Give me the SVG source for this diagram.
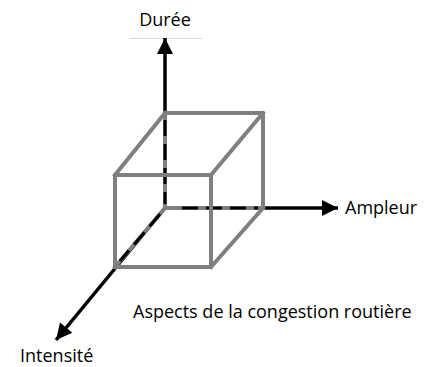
<svg xmlns="http://www.w3.org/2000/svg" width="437" height="367" viewBox="0 0 437 367">
  <style>
    .axis { stroke: #000; stroke-width: 3.5; fill: none; }
    .edge { stroke: #7f7f7f; stroke-width: 4; fill: none; stroke-linejoin: round; stroke-linecap: square; }
    .hidden { stroke: #000; stroke-width: 3; fill: none; stroke-dasharray: 16 8; }
    .label { font-family: "Open Sans", "Noto Sans", sans-serif; font-size: 18px; fill: #000; }
  </style>
  <defs>
    <marker id="arrow" viewBox="0 0 10 10" refX="10" refY="5" markerUnits="userSpaceOnUse" markerWidth="17" markerHeight="16" orient="auto">
      <path d="M0,0 L10,5 L0,10 z" fill="#000"/>
    </marker>
  </defs>
  <rect width="437" height="367" fill="#fff"/>

  <!-- thin rule under the vertical axis label -->
  <line x1="130" y1="38.5" x2="202" y2="38.5" stroke="#d9d9d9" stroke-width="1"/>

  <g id="connectors">
    <line class="axis" x1="165" y1="208" x2="165" y2="38" marker-end="url(#arrow)"/>
    <line class="axis" x1="165" y1="208" x2="338" y2="208" marker-end="url(#arrow)"/>
    <line class="axis" x1="165" y1="208" x2="56" y2="340" marker-end="url(#arrow)"/>
  </g>

  <g id="cube">
    <!-- back face and receding edges -->
    <polyline class="edge" points="165,208 165,113 263,113 263,208 165,208"/>
    <line class="edge" x1="165" y1="208" x2="115" y2="267"/>
    <!-- hidden edges along the axes -->
    <line class="hidden" x1="165" y1="120" x2="165" y2="204"/>
    <line class="hidden" x1="182" y1="208" x2="258" y2="208"/>
    <line class="hidden" x1="160" y1="214" x2="120" y2="261"/>
    <!-- visible edges -->
    <line class="edge" x1="165" y1="113" x2="115" y2="175"/>
    <line class="edge" x1="263" y1="113" x2="211" y2="175"/>
    <line class="edge" x1="263" y1="208" x2="211" y2="267"/>
    <polygon class="edge" points="115,175 211,175 211,267 115,267"/>
  </g>

  <g id="duree"><text class="label" x="165" y="26" text-anchor="middle">Durée</text></g>
  <g id="ampleur"><text class="label" x="345" y="214">Ampleur</text></g>
  <g id="intensite"><text class="label" x="20" y="362">Intensité</text></g>
  <g id="title"><text class="label" x="133" y="318">Aspects de la congestion routière</text></g>
</svg>
